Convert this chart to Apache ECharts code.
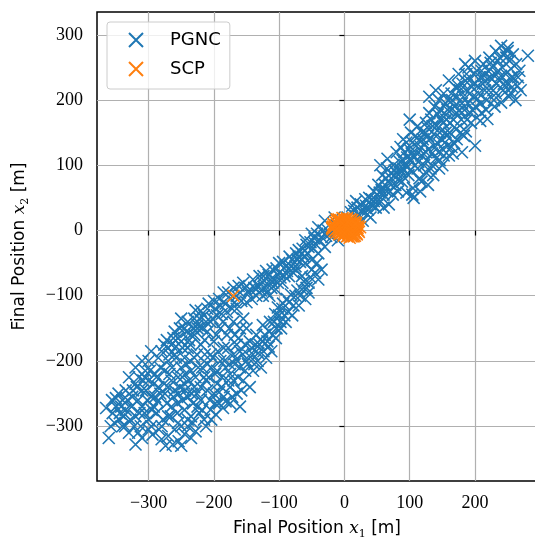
<!DOCTYPE html>
<html>
<head>
<meta charset="utf-8">
<script src="https://cdn.jsdelivr.net/npm/echarts@6/dist/echarts.min.js"></script>
<style>
  html, body { margin: 0; padding: 0; background: #fff; }
  #chart { width: 535px; height: 540px; }
</style>
</head>
<body>
<div id="chart"></div>
<script>
// tick positions
var xTicks = [-300, -200, -100, 0, 100, 200];
var yTicks = [-300, -200, -100, 0, 100, 200, 300];

// PGNC final positions, upper-right arm [x1, x2]
var pgncUpper = [
  [5,20],[10,28],[15,30],[20,35],[25,40],[18,45],[30,30],[35,25],[28,15],[40,40],
  [38,50],[45,45],[32,48],[22,25],[12,38],[8,12],[40,20],[48,35],[50,55],[45,60],
  [55,45],[60,55],[62,70],[58,85],[65,95],[70,60],[72,80],[68,40],[75,100],[78,70],
  [80,88],[60,35],[52,70],[55,100],[66,110],[74,55],[82,60],[85,105],[80,120],
  [88,75],[90,95],[92,120],[95,135],[98,85],[100,110],[102,150],[105,65],[108,100],
  [110,130],[112,160],[115,80],[118,115],[120,140],[95,58],[106,50],[100,170],[90,140],
  [86,128],[112,95],[116,60],[122,100],[125,165],
  [125,120],[128,145],[130,180],[132,95],[135,160],[138,190],[140,110],[142,135],
  [145,200],[148,170],[150,125],[152,210],[155,150],[158,185],[160,115],[130,205],
  [136,85],[145,95],[128,70],[140,215],[155,195],[150,100],[158,130],[160,230],
  [162,165],[165,200],[168,134],[170,220],[172,180],[175,240],[178,150],[180,195],
  [183,145],[185,230],[188,170],[190,250],[192,210],[194,165],[196,185],[198,240],
  [200,130],[174,222],[166,118],[180,120],[204,222],[204,202],[200,260],[185,255],
  [210,180],[214,237],[218,200],[219,171],[222,265],[224,257],[228,215],[230,190],
  [232,275],[236,245],[240,237],[240,196],[240,283],[244,225],[248,265],[250,275],
  [252,205],[255,248],[255,211],[258,270],[260,233],[262,200],[265,222],[268,245],
  [270,215],[281,268],[250,280],[245,272],[235,260],[215,215],[210,245],[226,232],
  [246,212],[232,210],
  [3,8],[12,18],[18,22],[26,30],[33,38],[42,48],[36,32],[44,38],[50,45],[54,58],
  [57,62],[63,62],[64,80],[69,72],[71,88],[76,84],[77,92],[82,78],[84,95],[87,90],
  [89,108],[91,82],[93,100],[96,112],[97,98],[99,125],[101,92],[103,118],[104,135],
  [107,112],[109,145],[111,118],[113,105],[114,138],[117,128],[119,150],[121,118],
  [123,132],[124,150],[126,108],[127,158],[129,125],[131,140],[133,170],[134,118],
  [137,148],[139,128],[141,160],[143,178],[144,120],[146,150],[147,185],[149,140],
  [151,165],[153,180],[154,135],[156,170],[157,145],[159,200],[161,150],[163,185],
  [164,210],[167,170],[169,190],[171,155],[173,205],[176,185],[177,215],[179,170],
  [181,225],[182,205],[184,185],[186,215],[187,240],[189,195],[191,230],[193,180],
  [195,220],[197,205],[199,225],[201,190],[203,245],[206,210],[208,235],[209,195],
  [212,225],[213,255],[216,230],[217,185],[220,245],[221,215],[223,235],[227,250],
  [229,200],[231,240],[233,225],[237,230],[238,265],[242,250],[243,215],[247,240],
  [249,225],[253,260],[256,235],[257,220],[263,255],[266,235],
  [104,55],[118,75],[126,88],[134,100],[146,108],[152,115],[164,128],[172,140],
  [186,152],[208,168]
];

// PGNC final positions, lower-left arm [x1, x2]
var pgncLower = [
  [-15,20],[-30,15],[-25,0],[-40,5],[-35,-10],[-50,-5],[-45,-20],[-55,-25],[-40,-35],
  [-30,-25],[-60,-15],[-65,-35],[-50,-45],[-35,-60],[-40,-75],[-50,-60],[-60,-50],
  [-70,-30],[-20,-10],[-10,-15],[-55,-80],[-65,-70],[-75,-55],
  [-70,-40],[-75,-60],[-80,-45],[-85,-70],[-90,-55],[-95,-80],[-100,-50],[-100,-65],
  [-105,-90],[-110,-60],[-113,-75],[-118,-95],[-120,-62],[-125,-80],[-130,-70],
  [-135,-100],[-140,-75],[-145,-90],[-150,-110],[-155,-80],[-160,-95],[-165,-120],
  [-170,-88],[-175,-105],[-180,-125],[-185,-95],[-190,-115],[-195,-130],[-200,-108],
  [-205,-140],[-210,-120],[-215,-130],[-220,-123],[-225,-145],[-230,-135],[-235,-160],
  [-240,-140],[-245,-150],[-250,-135],[-255,-165],[-260,-155],[-265,-175],
  [-55,-95],[-60,-105],[-65,-90],[-70,-115],[-75,-100],[-80,-130],[-85,-110],[-90,-140],
  [-95,-120],[-97,-150],[-100,-130],[-105,-165],[-108,-140],[-112,-185],[-115,-155],
  [-118,-170],[-120,-195],[-125,-145],[-128,-210],[-130,-175],[-133,-200],[-135,-160],
  [-140,-190],[-145,-170],[-148,-205],[-150,-150],
  [-155,-135],[-160,-150],[-170,-140],[-180,-160],[-190,-150],[-200,-170],[-210,-155],
  [-220,-175],[-230,-160],[-240,-180],[-250,-170],[-260,-190],[-270,-180],[-165,-175],
  [-185,-180],[-205,-190],[-225,-150],[-245,-195],
  [-140,-215],[-150,-200],[-160,-210],[-170,-190],[-175,-220],[-190,-200],[-195,-215],
  [-210,-205],[-215,-225],[-230,-195],[-235,-215],[-250,-210],[-255,-225],[-270,-200],
  [-275,-215],[-285,-195],[-290,-220],[-300,-200],[-305,-215],[-315,-225],[-280,-185],
  [-320,-210],
  [-145,-240],[-155,-230],[-165,-250],[-175,-240],[-185,-255],[-195,-235],[-200,-250],
  [-210,-245],[-220,-260],[-230,-240],[-240,-255],[-245,-235],[-260,-245],[-265,-230],
  [-275,-250],[-285,-240],[-290,-255],[-300,-230],[-310,-245],[-320,-235],[-325,-255],
  [-335,-245],[-340,-260],[-330,-225],
  [-160,-270],[-175,-265],[-186,-272],[-197,-282],[-205,-275],[-215,-290],[-225,-270],
  [-235,-285],[-245,-275],[-255,-295],[-265,-270],[-270,-285],[-280,-300],[-295,-275],
  [-300,-290],[-310,-270],[-320,-285],[-335,-275],[-345,-290],[-350,-270],[-355,-280],
  [-365,-272],[-350,-257],[-240,-300],[-260,-305],
  [-228,-308],[-235,-318],[-245,-312],[-254,-323],[-263,-328],[-270,-315],[-280,-320],
  [-294,-313],[-300,-305],[-310,-318],[-320,-328],[-330,-310],[-340,-300],[-361,-318],
  [-250,-330],
  [-5,5],[-12,8],[-18,2],[-22,-5],[-28,-8],[-32,0],[-38,-15],[-42,-5],[-46,-12],
  [-48,-28],[-52,-18],[-56,-35],[-58,-22],[-62,-40],[-64,-28],[-68,-48],[-72,-45],
  [-74,-35],[-78,-65],[-82,-55],[-84,-40],[-88,-62],[-92,-70],[-94,-48],[-98,-72],
  [-102,-80],[-104,-58],[-108,-75],[-112,-88],[-116,-68],[-122,-88],[-124,-70],
  [-128,-92],[-132,-85],[-138,-88],[-142,-105],[-148,-95],[-152,-88],[-158,-108],
  [-162,-85],[-168,-110],[-172,-120],[-178,-95],[-182,-112],[-188,-128],[-192,-105],
  [-198,-120],[-202,-135],[-208,-112],[-212,-140],[-218,-150],[-222,-135],[-228,-122],
  [-232,-150],[-238,-168],[-242,-155],[-248,-180],[-252,-150],[-258,-178],[-262,-165],
  [-268,-190],[-272,-168],
  [-42,-50],[-45,-65],[-52,-72],[-58,-88],[-62,-78],[-68,-100],[-72,-92],[-78,-115],
  [-82,-98],[-86,-125],[-88,-105],[-92,-130],[-94,-112],[-98,-140],[-102,-118],
  [-104,-150],[-106,-128],[-110,-160],[-114,-140],[-116,-178],[-122,-160],[-124,-185],
  [-126,-170],[-132,-188],[-136,-175],[-138,-205],[-142,-180],[-146,-192],[-152,-175],
  [-156,-190],[-162,-165],[-166,-198],
  [-152,-215],[-158,-245],[-163,-225],[-168,-205],[-172,-255],[-178,-230],[-182,-210],
  [-188,-240],[-192,-265],[-198,-220],[-202,-195],[-206,-260],[-212,-230],[-218,-210],
  [-222,-280],[-226,-250],[-228,-225],[-232,-265],[-238,-230],[-242,-205],[-248,-260],
  [-252,-240],[-256,-280],[-258,-195],[-262,-255],[-268,-220],[-272,-265],[-276,-235],
  [-278,-290],[-282,-210],[-286,-262],[-288,-280],[-292,-235],[-296,-300],[-298,-215],
  [-302,-260],[-306,-280],[-308,-230],[-312,-300],[-316,-260],[-318,-240],[-322,-300],
  [-326,-270],[-328,-290],[-332,-260],[-338,-285],[-342,-270],[-346,-250],[-352,-295],
  [-358,-300],[-240,-290],[-250,-300],[-232,-295],[-218,-275],[-204,-290],[-192,-248],
  [-182,-262],[-170,-230],[-212,-300],[-284,-305],[-316,-310],[-274,-330],[-288,-225],
  [-276,-175],[-296,-185],[-310,-200],[-236,-175],[-226,-190],[-214,-168],[-196,-160],
  [-176,-150],[-186,-140],
  [-160,-185],[-168,-160],[-178,-180],[-184,-200],[-194,-185],[-204,-210],[-214,-190],
  [-220,-240],[-224,-210],[-234,-250],[-244,-220],[-254,-250],[-264,-210],[-266,-285],
  [-282,-250],[-292,-270],[-304,-245],[-314,-280],[-324,-245],[-336,-300],[-344,-280],
  [-356,-260],[-198,-265],[-208,-225],[-188,-225],[-176,-205],[-244,-245],[-256,-265],
  [-236,-200],[-248,-225],[-270,-240],[-296,-255],[-306,-225],
  [-110,-80],[-115,-100],[-125,-100],[-135,-90],[-165,-100],[-185,-110]
];

// SCP final positions [x1, x2]
var scpPoints = [
  [0,0],[4,6],[-4,10],[8,-2],[-8,-2],[12,8],[-12,12],[15,2],[-15,6],[6,15],
  [-6,16],[18,-4],[-18,6],[10,-8],[-8,-6],[14,12],[-14,0],[4,-9],[20,4],[0,18],
  [16,-8],[-2,12],[12,16],[-14,13],[21,0],[6,-5],[-5,4],[10,6],[2,10],[-9,17],
  [15,13],[8,12],[17,9],[12,-4],[-4,-4],[4,19],
  [-2,2],[2,-2],[4,8],[-3,-1],[7,3],[-7,7],[10,1],[-10,3],[11,11],[-11,9],
  [13,4],[-12,-3],[15,-1],[-1,-6],[5,-3],[9,9],[-8,13],[17,6],[-16,9],[19,2],
  [0,14],[-5,15],[3,16],[9,17],[-11,15],[19,-6],[16,-4],[11,-9],[6,-8],[-1,-8],
  [-8,1],[-18,2],[-17,10],[22,-2],[24,5],[14,7],[18,12],[-12,17],[-3,19],[8,-11],
  [14,-9],[21,7],[-19,4],[2,6],[5,13],[-6,-4],[17,10],[12,-6],[-15,-1],[0,-4],
  [-170,-100]
];

var crossPath = 'path://M0,0L10,10M10,0L0,10';
var tickFont = 'Liberation Serif';
var sansFont = 'DejaVu Sans';

function fmtTick(v) {
  return v < 0 ? '\u2212' + Math.abs(v) : String(v);
}

function axisName(sub) {
  return '{a|Final Position }{m|x}{s|' + sub + '}{a| [m]}';
}

var nameRich = {
  a: { fontFamily: sansFont, fontSize: 17, color: '#000', lineHeight: 22 },
  m: { fontFamily: 'DejaVu Serif', fontStyle: 'italic', fontSize: 17, color: '#000', lineHeight: 22 },
  s: { fontFamily: 'DejaVu Serif', fontSize: 11, color: '#000', lineHeight: 13, verticalAlign: 'bottom' }
};

var chart = echarts.init(document.getElementById('chart'), null, { renderer: 'canvas' });

var option = {
  animation: false,
  backgroundColor: '#fff',
  grid: {
    left: 97, right: -2, top: 12, bottom: 59,
    outerBoundsMode: 'none',
    containLabel: false,
    show: true, borderColor: '#000', borderWidth: 1.5, backgroundColor: 'transparent'
  },
  legend: {
    left: 107, top: 22,
    orient: 'vertical',
    padding: [9, 9, 11, 21],
    itemWidth: 14, itemHeight: 14, itemGap: 11,
    backgroundColor: 'rgba(255,255,255,0.8)',
    borderColor: '#cccccc', borderWidth: 1, borderRadius: 3,
    textStyle: { fontFamily: sansFont, fontSize: 18, color: '#000', padding: [0, 0, 0, 22] },
    data: ['PGNC', 'SCP']
  },
  xAxis: {
    type: 'value',
    min: -379, max: 295,
    name: axisName('1'),
    nameLocation: 'middle',
    nameGap: 37,
    nameTextStyle: { rich: nameRich },
    axisLine: { show: false },
    axisTick: { show: true, length: 5, inside: false, customValues: xTicks, lineStyle: { color: '#000', width: 1.2 } },
    axisLabel: {
      customValues: xTicks, margin: 13,
      fontFamily: tickFont, fontSize: 18, color: '#000',
      formatter: fmtTick
    },
    splitLine: { show: true, lineStyle: { color: '#b0b0b0', width: 1.2 } }
  },
  yAxis: {
    type: 'value',
    min: -384, max: 335,
    name: axisName('2'),
    nameLocation: 'middle',
    nameGap: 66,
    nameRotate: 90,
    nameTextStyle: { rich: nameRich },
    axisLine: { show: false },
    axisTick: { show: true, length: 5, inside: false, customValues: yTicks, lineStyle: { color: '#000', width: 1.2 } },
    axisLabel: {
      customValues: yTicks, margin: 14,
      fontFamily: tickFont, fontSize: 18, color: '#000',
      formatter: fmtTick
    },
    splitLine: { show: true, lineStyle: { color: '#b0b0b0', width: 1.2 } }
  },
  series: [
    {
      name: 'PGNC',
      type: 'scatter',
      symbol: crossPath,
      symbolSize: 12,
      itemStyle: { color: '#1f77b4', borderColor: '#1f77b4', borderWidth: 1.6, opacity: 1 },
      emphasis: { disabled: true },
      data: pgncUpper.concat(pgncLower)
    },
    {
      name: 'SCP',
      type: 'scatter',
      symbol: crossPath,
      symbolSize: 12,
      itemStyle: { color: '#ff7f0e', borderColor: '#ff7f0e', borderWidth: 1.6, opacity: 1 },
      emphasis: { disabled: true },
      data: scpPoints
    }
  ]
};

chart.setOption(option);
</script>
</body>
</html>
